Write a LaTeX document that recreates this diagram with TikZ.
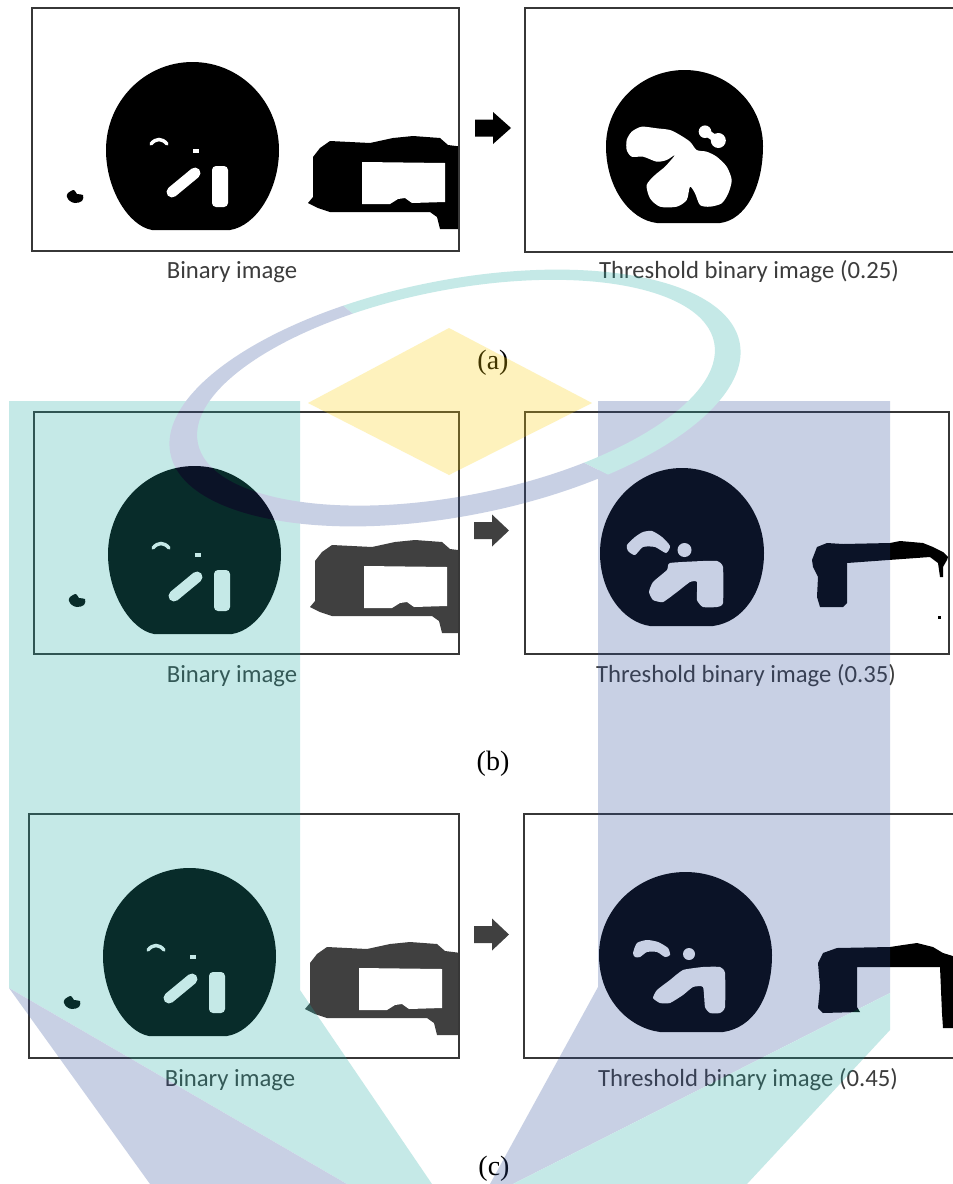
\documentclass[tikz,border=0pt]{standalone}
\usepackage{fontspec}
\setmainfont{Liberation Serif}
\newfontfamily\capfont{Carlito}
\definecolor{wmteal}{RGB}{31,173,165}
\definecolor{wmblue}{RGB}{46,77,154}
\definecolor{wmyellow}{RGB}{254,208,0}
\definecolor{blobgray}{RGB}{64,64,64}
\definecolor{capgray}{RGB}{60,60,60}
\definecolor{framegray}{RGB}{55,55,55}
\newcommand\binimg[1]{%
  \fill[black] (74,142) arc[start angle=180, end angle=360, x radius=86.5, y radius=88]
     .. controls (247,182) and (224,218) .. (198,222) -- (120,222)
     .. controls (97,218) and (74,182) .. (74,142) -- cycle;
  \draw[white, line width=3.5pt, line cap=round] (119,136) .. controls (124,130) and (130,130) .. (135,136);
  \fill[white] (161,141) rectangle (167,145);
  \draw[white, line width=11pt, line cap=round] (140,184) -- (163,165);
  \fill[white, rounded corners=4pt] (180,158) rectangle (196,199);
  \fill[black] plot[smooth cycle, tension=0.6] coordinates {(36,185) (42,182) (45,186) (51,187) (50,193) (43,195) (38,193) (35,189)};
  \fill[#1] (276,195) -- (281,189) -- (281,149) -- (288,140) -- (298,133) -- (338,135) -- (361,130) -- (381,128) -- (408,130) -- (416,137) -- (432,139) -- (432,221) -- (408,221) -- (405,209) -- (398,204) -- (298,204) -- (286,200) -- cycle;
  \fill[white] (330,154) -- (413,155) -- (413,194) -- (380,195) -- (373,190) -- (366,191) -- (358,196) -- (330,196) -- cycle;
}
\tikzset{
  imgframe/.style={draw=framegray, line width=1.3pt},
  captxt/.style={font=\capfont\fontsize{24.7}{28}\selectfont, text=capgray, inner sep=0pt, anchor=base},
  labtxt/.style={font=\fontsize{28}{32}\selectfont, text=black, inner sep=0pt, anchor=base},
}
\begin{document}
\begin{tikzpicture}[x=1pt,y=-1pt]
\useasboundingbox (0,0) rectangle (953,1184);
\clip (0,0) rectangle (953,1184);
\fill[white] (0,0) rectangle (953,1184);

% ---------- row (a)
\begin{scope}
  \clip (32,8) rectangle (459,251);
  \begin{scope}[shift={(32,8)}] \binimg{black} \end{scope}
\end{scope}
\draw[imgframe] (32,8) rectangle (459,251);
\begin{scope}
  \clip (525,8) rectangle (955,252);
  \begin{scope}[shift={(525,8)}]
    \fill[black] (81,138) arc[start angle=180, end angle=360, x radius=78.5, y radius=76]
       .. controls (238,180) and (220,212) .. (195,215) -- (132,215)
       .. controls (105,212) and (81,180) .. (81,138) -- cycle;
    \fill[white] plot[smooth cycle, tension=0.45] coordinates {(101.7,132) (106.7,123.7) (116.7,118.7) (131.7,120.3) (145,122) (155,127) (165,133.7) (171.7,142) (181.7,143.7) (191.7,148.7) (201.7,158.7) (206.7,172) (203.3,185.3) (196.7,195.3) (185,198.7) (175,197) (170,185.3) (165,178.7) (161.7,192) (151.7,198.7) (135,198.7) (125,190.3) (121.7,177) (130,167) (140,158.7) (150,147) (141.7,152) (131.7,153.7) (118.3,148.7) (106.7,148.7) (101.7,142)};
    \fill[white] (180,123.7) circle (6.3);
    \fill[white] (193.3,132.5) circle (7.5);
    \draw[white, line width=7pt] (180,123.7) -- (193.3,132.5);
  \end{scope}
\end{scope}
\draw[imgframe] (525,8) rectangle (955,252);
\begin{scope}[shift={(475,128)}]
  \fill[black] (0,-8.5) -- (18,-8.5) -- (18,-16) -- (36,0) -- (18,16) -- (18,8.5) -- (0,8.5) -- cycle;
\end{scope}
\node[captxt] (capA1) at (232,278) {Binary image};
\node[captxt] (capA2) at (749,278) {Threshold binary image (0.25)};
\node[labtxt] (labA) at (493,369) {(a)};

% ---------- row (b)
\begin{scope}
  \clip (34,412) rectangle (459,654);
  \begin{scope}[shift={(34,412)}] \binimg{blobgray} \end{scope}
\end{scope}
\draw[imgframe] (34,412) rectangle (459,654);
\begin{scope}
  \clip (525,412) rectangle (949,654);
  \begin{scope}[shift={(525,412)}]
    \fill[black] (75,141) arc[start angle=180, end angle=360, x radius=82, y radius=85]
       .. controls (239,180) and (218,210) .. (188,214) -- (125,214)
       .. controls (98,210) and (75,180) .. (75,141) -- cycle;
    \fill[white] plot[smooth cycle, tension=0.4] coordinates {(102,133) (110,125) (118,120) (127,119) (137,125) (145,134) (141,141) (130,135) (118,135) (110,143) (103,139)};
    \fill[white] (159.5,138) circle (7);
    \fill[white] plot[smooth cycle, tension=0.3] coordinates {(145,151) (178,149) (192,149) (198,155) (198,191) (192,195) (178,195) (172,188) (172,170) (165,170) (152,180) (138,190) (128,188) (124,180) (128,170) (142,158)};
    \fill[black] (287,148) -- (292,135) -- (302,131) -- (318,132) -- (365,131) -- (375,129) -- (398,131) -- (408,135) -- (418,140) -- (423,145) -- (422,148) -- (418,155) -- (418,165) -- (415,165) -- (413,151) -- (405,145) -- (322,151) -- (322,191) -- (318,195) -- (295,195) -- (292,185) -- (293,165) -- (288,155) -- cycle;
    \fill[black] (413,204) rectangle (416,207);
  \end{scope}
\end{scope}
\draw[imgframe] (525,412) rectangle (949,654);
\begin{scope}[shift={(474,530.5)}]
  \fill[blobgray] (0,-8.5) -- (18,-8.5) -- (18,-16) -- (35,0) -- (18,16) -- (18,8.5) -- (0,8.5) -- cycle;
\end{scope}
\node[captxt] (capB1) at (232,682) {Binary image};
\node[captxt] (capB2) at (746,682) {Threshold binary image (0.35)};
\node[labtxt] (labB) at (493,770) {(b)};

% ---------- row (c)
\begin{scope}
  \clip (29,814) rectangle (459,1058);
  \begin{scope}[shift={(29,814)}] \binimg{blobgray} \end{scope}
\end{scope}
\draw[imgframe] (29,814) rectangle (459,1058);
\begin{scope}
  \clip (524,814) rectangle (955,1058);
  \begin{scope}[shift={(524,814)}]
    \fill[black] (75,141) arc[start angle=180, end angle=360, x radius=86.5, y radius=83]
       .. controls (248,185) and (228,214) .. (199,218) -- (136,218)
       .. controls (105,214) and (75,185) .. (75,141) -- cycle;
    \fill[white] plot[smooth cycle, tension=0.4] coordinates {(109,139) (113,129) (123,126) (134,128) (144,134) (146,141) (141,143) (133,138) (123,138) (116,143) (111,143)};
    \fill[white] (165,140) circle (6);
    \fill[white] plot[smooth cycle, tension=0.3] coordinates {(133,176) (146,166) (159,156) (179,153) (196,153) (201,159) (201,193) (196,199) (186,199) (181,193) (179,173) (169,173) (159,181) (146,189) (136,189) (129,184)};
    \fill[black] (294,149) -- (296,173) -- (294,194) -- (299,199) -- (336,198) -- (333,193) -- (333,153) -- (416,153) -- (418,199) -- (419,214) -- (432,214) -- (432,143) -- (419,139) -- (409,133) -- (393,129) -- (379,131) -- (366,133) -- (313,134) -- (299,139) -- cycle;
  \end{scope}
\end{scope}
\draw[imgframe] (524,814) rectangle (955,1058);
\begin{scope}[shift={(474,934.5)}]
  \fill[blobgray] (0,-8.5) -- (18,-8.5) -- (18,-16) -- (35,0) -- (18,16) -- (18,8.5) -- (0,8.5) -- cycle;
\end{scope}
\node[captxt] (capC1) at (230,1086) {Binary image};
\node[captxt] (capC2) at (748,1086) {Threshold binary image (0.45)};
\node[labtxt] (labC) at (494,1175) {(c)};

% ---------- watermark
\begin{scope}[transparency group, opacity=0.26]
  \fill[wmteal] (9,401) -- (300,401) -- (300,990) -- (432,1184) -- (347,1184) -- (9,988) -- cycle;
  \fill[wmblue] (9,988) -- (347,1184) -- (150,1184) -- cycle;
  \fill[wmblue] (598,401) -- (890,401) -- (890,993) -- (513,1184) -- (490,1184) -- (598,987) -- cycle;
  \fill[wmteal] (890,993) -- (890,1030) -- (747,1184) -- (513,1184) -- cycle;
  \fill[wmyellow] (449,328) -- (592,403) -- (449,475) -- (308,403) -- cycle;
  \begin{scope}[shift={(455,398)}, rotate=11]
    \begin{scope}
      \clip (0,0) -- (544,420) -- (800,420) -- (800,-420) -- (-346,-420) -- cycle;
      \fill[wmteal, even odd rule] (0,0) ellipse (290 and 118) (2,-5) ellipse (263 and 103);
    \end{scope}
    \begin{scope}
      \clip (0,0) -- (-346,-420) -- (-800,-420) -- (-800,420) -- (544,420) -- cycle;
      \fill[wmblue, even odd rule] (0,0) ellipse (290 and 118) (2,-5) ellipse (263 and 103);
    \end{scope}
  \end{scope}
\end{scope}
\end{tikzpicture}
\end{document}
